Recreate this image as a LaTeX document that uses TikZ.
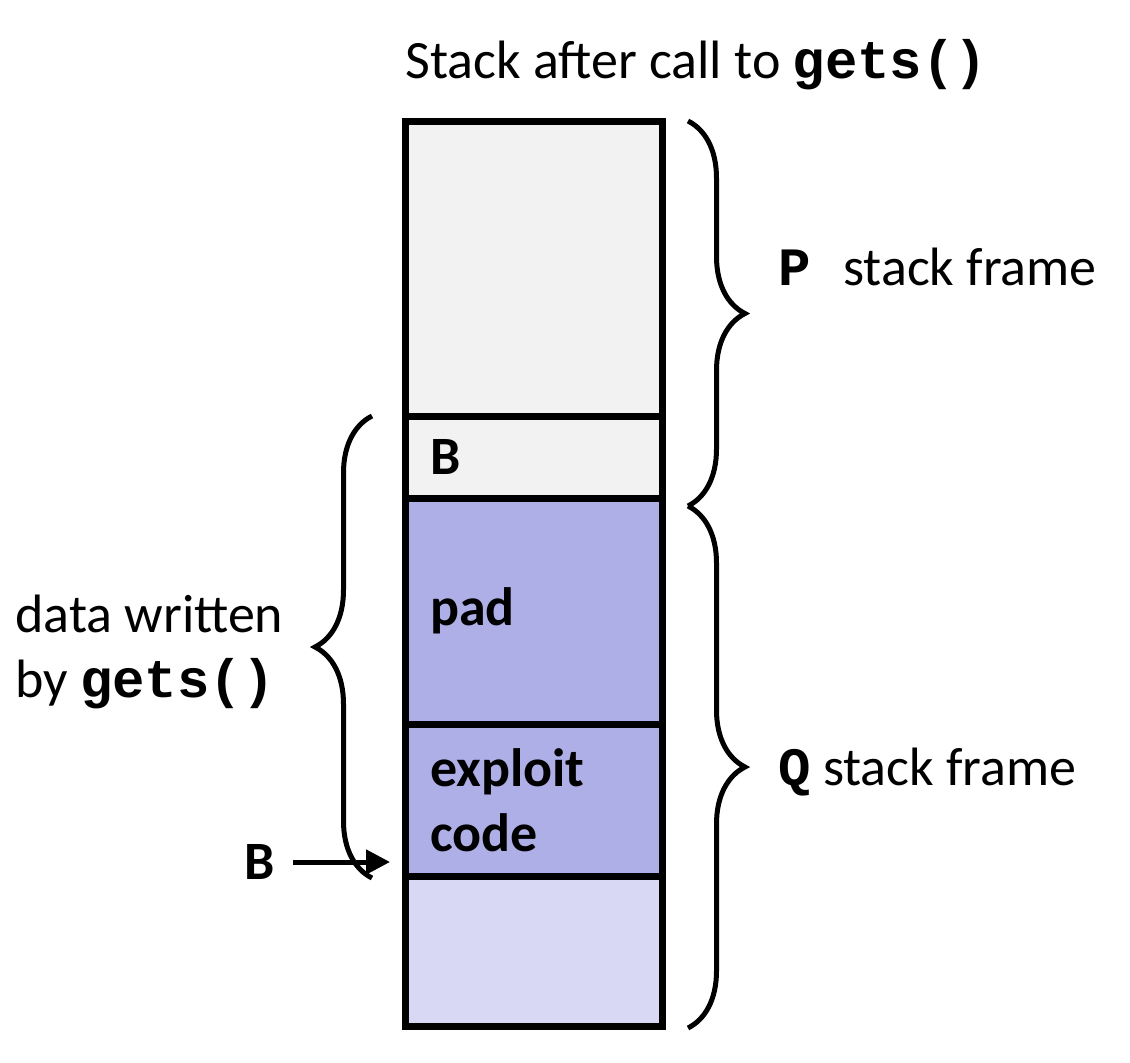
\documentclass[tikz,border=0pt]{standalone}
\usepackage{fontspec}
\setmainfont{Carlito}
\setmonofont{Liberation Mono}
\usepackage{tikz}
\usetikzlibrary{positioning}
\usetikzlibrary{arrows.meta,
                decorations.pathreplacing}
\tikzset{
    cell/.style={
           rectangle,
           draw=black, line width=3.5pt,
           minimum width=128.5pt,
           text width=103.5pt,
           inner xsep=12.5pt,
           outer sep=0pt,
           align=left,
           font=\bfseries,
           },
    lbl/.style={inner sep=0pt, align=left},
    curly/.style={decorate, decoration={brace, amplitude=28.5pt}, line width=2.5pt},
}
\definecolor{frame}{RGB}{242,242,242}
\definecolor{padblue}{RGB}{175,175,232}
\definecolor{freeblue}{RGB}{216,216,244}

\begin{document}
\fontsize{27}{32.5}\selectfont
\begin{tikzpicture}[>={Triangle[length=12pt,width=12pt]}]
 \useasboundingbox (0,0) rectangle (565pt,-531pt);

 % the stack, top to bottom
 \node[cell, fill=frame, minimum height=147.5pt] (PF) at (266.75pt,-134.25pt) {};
 \node[cell, fill=frame, minimum height=41pt, below=0pt of PF] (BUF) {B};
 \node[cell, fill=padblue, minimum height=113pt, below=0pt of BUF] (PAD) {pad};
 \node[cell, fill=padblue, minimum height=76pt, below=0pt of PAD] (EXP) {exploit\\code};
 \node[cell, fill=freeblue, minimum height=75pt, below=0pt of EXP] (FREE) {};

 \node[lbl, anchor=base west] (title) at ([yshift=21.5pt]PF.north west)
 {Stack after call to \texttt{\textbf{gets()}}};

 % frames
 \coordinate (PQ) at ([xshift=13pt,yshift=-4pt]BUF.south east);
 \draw[curly] ([xshift=13pt]PF.north east) -- (PQ);
 \draw[curly] (PQ) -- ([xshift=13pt,yshift=-1pt]FREE.south east);
 \node[lbl, anchor=base west] (Plbl) at (389pt,-142.5pt) {\texttt{\textbf{P }}stack frame};
 \node[lbl, anchor=base west] (Qlbl) at (389pt,-392.5pt) {\texttt{\textbf{Q}} stack frame};

 % data written by gets()
 \draw[curly] ([xshift=-16.5pt,yshift=-1pt]EXP.south west) -- ([xshift=-16.5pt]BUF.north west);
 \node[lbl, anchor=base west] (data) at (7.5pt,-348.5pt) {data written\\by \texttt{\textbf{gets()}}};

 \coordinate (tip) at ([xshift=-7.5pt,yshift=7pt]EXP.south west);
 \node[lbl, font=\bfseries, left=57.5pt of tip] (bptr) {B};
 \draw[->, line width=2.5pt, shorten <=9pt] (bptr) -- (tip);
\end{tikzpicture}
\end{document}
